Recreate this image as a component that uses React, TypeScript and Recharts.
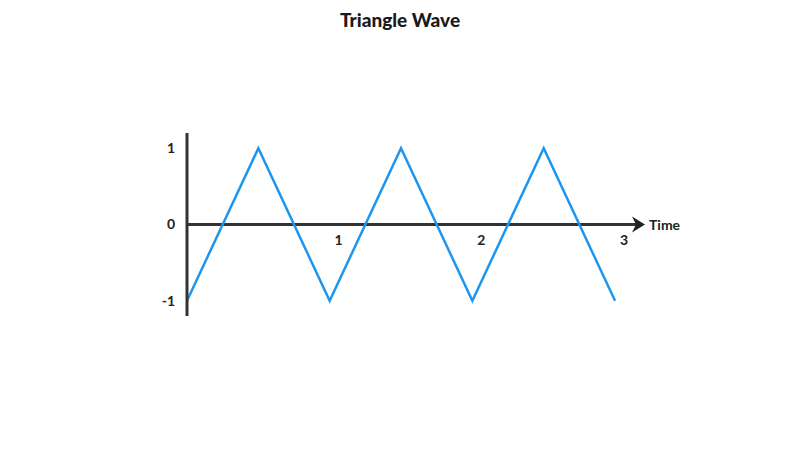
import { LineChart, Line, XAxis, YAxis, ReferenceLine } from 'recharts';

const times = [0, 0.5, 1, 1.5, 2, 2.5, 3];
const amplitude = [-1, 1, -1, 1, -1, 1, -1];
const xTicks = [1, 2, 3];
const yTicks = [-1, 0, 1];

const data = times.map((t, i) => ({ t, v: amplitude[i] }));

const FONT = 'Lato, "Open Sans", sans-serif';

const ArrowAxis = (props: any) => {
    const { x1, y1, x2 } = props;
    return (
        <g>
            <line x1={x1} y1={y1} x2={x2 - 6} y2={y1} stroke="#333" strokeWidth={3} />
            <polygon
                points={`${x2},${y1} ${x2 - 13},${y1 - 8} ${x2 - 9},${y1} ${x2 - 13},${y1 + 8}`}
                fill="#222"
            />
            <text x={x2 + 4} y={y1} dominantBaseline="central" fontFamily={FONT} fontWeight={700} fontSize={14} fill="#222">
                Time
            </text>
        </g>
    );
};

const XTick = (props: any) => {
    const { x, y, payload } = props;
    return (
        <text x={x + 9} y={y - 85} textAnchor="middle" dominantBaseline="central" fontFamily={FONT} fontWeight={700} fontSize={14} fill="#222">
            {payload.value}
        </text>
    );
};

const App = () => {
    return (
        <div style={{ position: 'absolute', left: 0, top: 0, width: 800, height: 450, background: '#fff' }}>
            <div style={{ position: 'absolute', top: 8, width: 800, textAlign: 'center', fontFamily: FONT, fontWeight: 900, fontSize: 19, color: '#1a1a1a' }}>
                Triangle Wave
            </div>
            <LineChart width={800} height={450} data={data} margin={{ top: 133, right: 155, left: 147, bottom: 104 }}>
                <XAxis
                    dataKey="t"
                    type="number"
                    domain={[0, 3.21]}
                    ticks={xTicks}
                    axisLine={false}
                    tickLine={false}
                    tick={XTick}
                    height={30}
                />
                <YAxis
                    type="number"
                    domain={[-1.2, 1.2]}
                    ticks={yTicks}
                    width={40}
                    axisLine={{ stroke: '#333', strokeWidth: 3 }}
                    tickLine={false}
                    tickMargin={6}
                    tick={{ fill: '#222', fontFamily: FONT, fontWeight: 700, fontSize: 14 }}
                />
                <ReferenceLine y={0} shape={ArrowAxis} />
                <Line
                    type="linear"
                    dataKey="v"
                    stroke="#1E96F0"
                    strokeWidth={2.5}
                    dot={false}
                    isAnimationActive={false}
                />
            </LineChart>
        </div>
    );
};

export default App;
